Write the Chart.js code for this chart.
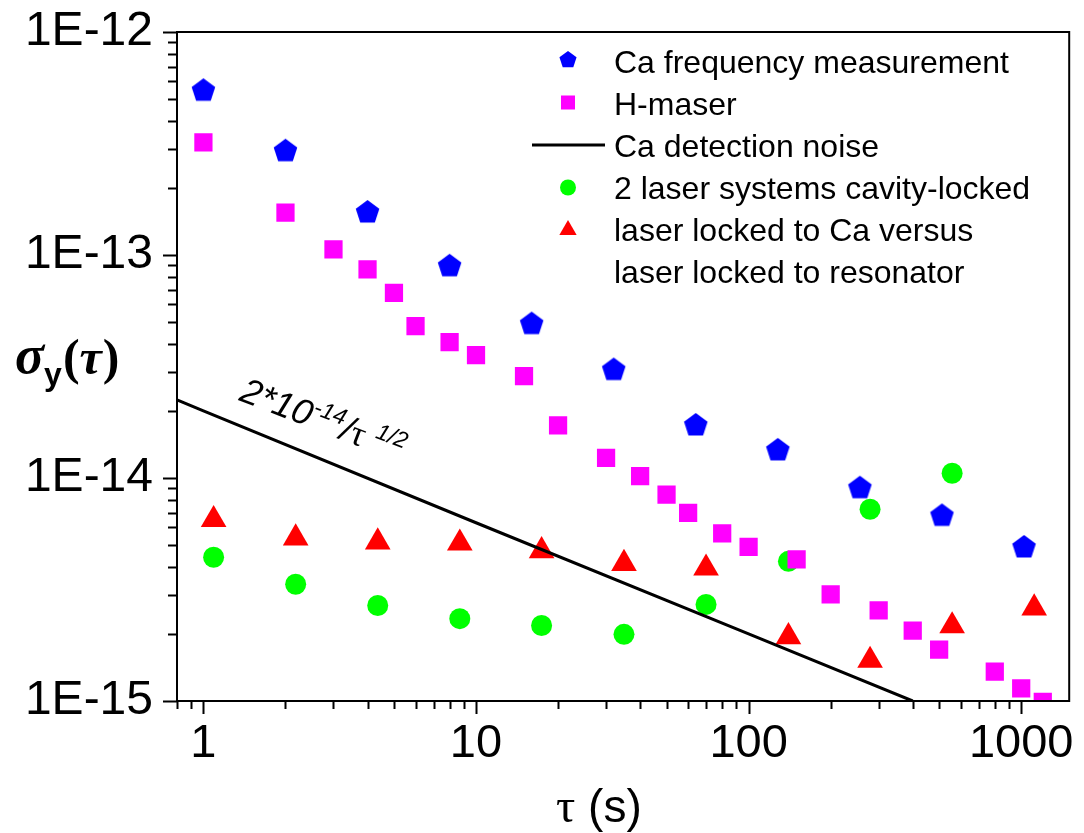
<!DOCTYPE html>
<html>
<head>
<meta charset="utf-8">
<title>Allan deviation</title>
<script src="https://cdn.jsdelivr.net/npm/chart.js@4/dist/chart.umd.min.js"></script>
<style>
  body { margin: 0; background: #fff; }
  canvas { display: block; }
</style>
</head>
<body>
<canvas id="adev" width="1084" height="833"></canvas>
<script>
/* Allan deviation plot, log-log */

// Ca frequency measurement (blue pentagons)
const caTau = [1, 2, 4, 8, 16, 32, 64, 128, 256, 512, 1024];
const caSigma = [5.45e-13, 2.92e-13, 1.55e-13, 8.9e-14, 4.9e-14, 3.05e-14, 1.72e-14, 1.33e-14, 9.0e-15, 6.76e-15, 4.88e-15];

// H-maser (magenta squares)
const maserTau = [1, 2, 3, 4, 5, 6, 8, 10, 15, 20, 30, 40, 50, 60, 80, 100, 150, 200, 300, 400, 500, 800, 1000, 1200];
const maserSigma = [3.20e-13, 1.55e-13, 1.06e-13, 8.62e-14, 6.77e-14, 4.8e-14, 4.07e-14, 3.56e-14, 2.86e-14, 1.72e-14,
  1.23e-14, 1.02e-14, 8.43e-15, 6.97e-15, 5.64e-15, 4.91e-15, 4.32e-15, 3.01e-15, 2.55e-15, 2.07e-15,
  1.70e-15, 1.355e-15, 1.14e-15, 0.99e-15];

// Ca detection noise (black line)
const noiseTau = [0.8, 1, 10, 100, 400];
const noiseSigma = [2.24e-14, 2.0e-14, 6.3e-15, 2.0e-15, 1.0e-15];

// 2 laser systems cavity-locked (green circles)
const cavityTau = [1.09, 2.18, 4.36, 8.72, 17.4, 34.9, 69.8, 140, 279, 558];
const cavitySigma = [4.41e-15, 3.34e-15, 2.68e-15, 2.34e-15, 2.18e-15, 1.99e-15, 2.71e-15, 4.23e-15, 7.24e-15, 1.05e-14];

// laser locked to Ca versus laser locked to resonator (red triangles)
const lockTau = [1.09, 2.18, 4.36, 8.72, 17.4, 34.9, 69.8, 140, 279, 558, 1116];
const lockSigma = [6.5e-15, 5.38e-15, 5.16e-15, 5.10e-15, 4.71e-15, 4.13e-15, 3.94e-15, 1.94e-15, 1.52e-15, 2.17e-15, 2.61e-15];

const legendLabels = [
  "Ca frequency measurement",
  "H-maser",
  "Ca detection noise",
  "2 laser systems cavity-locked",
  "laser locked to Ca versus",
  "laser locked to resonator"
];

const xRange = [0.8, 1500];
const yRange = [1e-15, 1e-12];

const BLUE = "#0000ff", MAGENTA = "#ff00ff", GREEN = "#00ff00", RED = "#ff0000";
const SANS = '"Liberation Sans", Arial, sans-serif';
const SERIF = '"Liberation Serif", "Times New Roman", serif';

function toPoints(xs, ys) {
  return xs.map((x, i) => ({ x: x, y: ys[i] }));
}

// Chart.js has no pentagon style, so use a small canvas
function makePentagon(r, color) {
  const c = document.createElement("canvas");
  const s = Math.ceil(2 * r + 2);
  c.width = s; c.height = s;
  const g = c.getContext("2d");
  g.fillStyle = color;
  g.beginPath();
  for (let i = 0; i < 5; i++) {
    const a = -Math.PI / 2 + i * 2 * Math.PI / 5;
    g.lineTo(s / 2 + r * Math.cos(a), s / 2 + r * Math.sin(a));
  }
  g.closePath();
  g.fill();
  return c;
}

function isPow10(v) {
  const l = Math.log10(v);
  return Math.abs(l - Math.round(l)) < 1e-6;
}

/**
 * 軸の目盛り・枠・凡例・タイトル
 */
const decorPlugin = {
  id: "decor",
  afterDraw(chart) {
    const ctx = chart.ctx;
    const a = chart.chartArea;
    const xs = chart.scales.x, ys = chart.scales.y;

    ctx.save();
    ctx.strokeStyle = "#000";
    ctx.lineWidth = 2;
    ctx.strokeRect(a.left, a.top, a.right - a.left, a.bottom - a.top);

    // minor/major ticks, outward
    ctx.beginPath();
    for (let e = -1; e <= 3; e++) {
      for (let m = 1; m <= 9; m++) {
        const v = m * Math.pow(10, e);
        if (v < xRange[0] * 0.999 || v > xRange[1]) continue;
        const px = Math.round(xs.getPixelForValue(v)) + 0.5;
        const len = m === 1 ? 13 : 8;
        ctx.moveTo(px, a.bottom);
        ctx.lineTo(px, a.bottom + len);
      }
    }
    for (let e = -15; e <= -12; e++) {
      for (let m = 1; m <= 9; m++) {
        const v = m * Math.pow(10, e);
        if (v < yRange[0] * 0.999 || v > yRange[1] * 1.001) continue;
        const py = Math.round(ys.getPixelForValue(v)) + 0.5;
        const len = m === 1 ? 14 : 9;
        ctx.moveTo(a.left, py);
        ctx.lineTo(a.left - len, py);
      }
    }
    ctx.stroke();

    // legend
    const mx = 568, tx = 614;
    ctx.font = "32px " + SANS;
    ctx.fillStyle = "#000";
    ctx.textBaseline = "alphabetic";
    legendLabels.forEach((t, i) => {
      ctx.fillText(t, tx, 72.7 + i * 42);
    });
    const rowY = i => 60 + i * 42.5;
    ctx.drawImage(legendPentagon, mx - legendPentagon.width / 2, rowY(0) - legendPentagon.height / 2);
    ctx.fillStyle = MAGENTA;
    ctx.fillRect(mx - 7, rowY(1) - 7, 14, 14);
    ctx.strokeStyle = "#000";
    ctx.lineWidth = 3;
    ctx.beginPath();
    ctx.moveTo(532, rowY(2));
    ctx.lineTo(605, rowY(2));
    ctx.stroke();
    ctx.fillStyle = GREEN;
    ctx.beginPath();
    ctx.arc(mx, rowY(3), 8, 0, Math.PI * 2);
    ctx.fill();
    ctx.fillStyle = RED;
    ctx.beginPath();
    const tr = 10;
    ctx.moveTo(mx, rowY(4) - tr);
    ctx.lineTo(mx + tr * Math.sin(2 * Math.PI / 3), rowY(4) + tr / 2);
    ctx.lineTo(mx - tr * Math.sin(2 * Math.PI / 3), rowY(4) + tr / 2);
    ctx.closePath();
    ctx.fill();

    // annotation along the noise line
    ctx.save();
    ctx.translate(238, 400);
    ctx.rotate(21 * Math.PI / 180);
    ctx.fillStyle = "#000";
    let x = 0;
    ctx.font = "italic 36px " + SANS;
    ctx.fillText("2*10", x, 0); x += ctx.measureText("2*10").width;
    ctx.font = "italic 23px " + SANS;
    ctx.fillText("-14", x, -14); x += ctx.measureText("-14").width;
    ctx.font = "italic 36px " + SANS;
    ctx.fillText("/", x, 0); x += ctx.measureText("/").width;
    ctx.font = "36px " + SERIF;
    ctx.fillText("τ", x, 0); x += ctx.measureText("τ ").width;
    ctx.font = "italic 23px " + SANS;
    ctx.fillText("1/2", x, -14);
    ctx.restore();

    // y title σy(τ)
    ctx.fillStyle = "#000";
    let yx = 15;
    ctx.font = "italic bold 54px " + SERIF;
    ctx.fillText("σ", yx, 373); yx += ctx.measureText("σ").width;
    ctx.font = "bold 32px " + SANS;
    ctx.fillText("y", yx, 385); yx += ctx.measureText("y").width + 1;
    ctx.font = "bold 50px " + SERIF;
    ctx.fillText("(", yx, 374); yx += ctx.measureText("(").width;
    ctx.font = "italic bold 50px " + SERIF;
    ctx.fillText("τ", yx, 374); yx += ctx.measureText("τ").width + 1;
    ctx.font = "bold 50px " + SERIF;
    ctx.fillText(")", yx, 374);

    // x title τ (s)
    let xx = 556;
    ctx.font = "48px " + SERIF;
    ctx.fillText("τ", xx, 822); xx += ctx.measureText("τ").width;
    ctx.font = "46px " + SANS;
    ctx.fillText(" (s)", xx, 822);
    ctx.restore();
  }
};

const legendPentagon = makePentagon(9, BLUE);

window.addEventListener("DOMContentLoaded", () => {
  const ctx = document.getElementById("adev").getContext("2d");
  new Chart(ctx, {
    type: "scatter",
    data: {
      datasets: [
        {
          label: legendLabels[0],
          data: toPoints(caTau, caSigma),
          pointStyle: makePentagon(12.4, BLUE),
          pointRadius: 12,
          backgroundColor: BLUE,
          clip: 0
        },
        {
          label: legendLabels[1],
          data: toPoints(maserTau, maserSigma),
          pointStyle: "rect",
          pointRadius: 12.9,
          pointBorderWidth: 0,
          backgroundColor: MAGENTA,
          borderColor: MAGENTA,
          clip: 0
        },
        {
          label: legendLabels[2],
          data: toPoints(noiseTau, noiseSigma),
          showLine: true,
          pointRadius: 0,
          borderColor: "#000",
          borderWidth: 3,
          clip: 0
        },
        {
          label: legendLabels[3],
          data: toPoints(cavityTau, cavitySigma),
          pointStyle: "circle",
          pointRadius: 10.5,
          pointBorderWidth: 0,
          backgroundColor: GREEN,
          borderColor: GREEN,
          clip: 0
        },
        {
          label: legendLabels[4],
          data: toPoints(lockTau, lockSigma),
          pointStyle: "triangle",
          pointRadius: 14.8,
          pointBorderWidth: 0,
          backgroundColor: RED,
          borderColor: RED,
          clip: 0
        }
      ]
    },
    options: {
      responsive: false,
      animation: false,
      devicePixelRatio: 1,
      layout: { padding: { top: 32, right: 11, left: 0, bottom: 0 } },
      plugins: {
        legend: { display: false },
        tooltip: { enabled: false }
      },
      scales: {
        x: {
          type: "logarithmic",
          min: xRange[0],
          max: xRange[1],
          grid: { display: false, drawTicks: false },
          border: { display: false },
          ticks: {
            autoSkip: false,
            maxRotation: 0,
            padding: 15,
            color: "#000",
            font: { size: 47, family: SANS },
            callback: v => isPow10(v) ? String(Math.round(v)) : ""
          },
          afterFit: s => {
            s.height = 132;
            s.paddingLeft = 0;
            s.paddingRight = 0;
          }
        },
        y: {
          type: "logarithmic",
          min: yRange[0],
          max: yRange[1],
          grid: { display: false, drawTicks: false },
          border: { display: false },
          ticks: {
            autoSkip: false,
            padding: 24,
            color: "#000",
            font: { size: 48, family: SANS },
            callback: v => isPow10(v) ? "1E" + Math.round(Math.log10(v)) : ""
          },
          afterFit: s => {
            s.width = 177;
            s.paddingTop = 0;
            s.paddingBottom = 0;
          }
        }
      }
    },
    plugins: [decorPlugin]
  });
});
</script>
</body>
</html>
